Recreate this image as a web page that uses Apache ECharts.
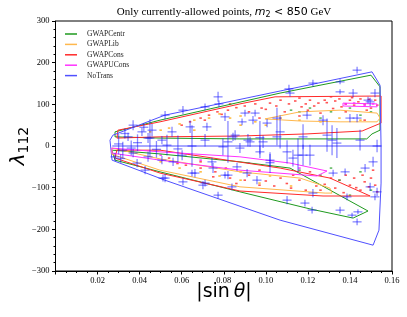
<!DOCTYPE html>
<html><head><meta charset="utf-8">
<script src="https://cdn.jsdelivr.net/npm/echarts@6/dist/echarts.min.js"></script>
<style>html,body{margin:0;padding:0;background:#fff}#c{width:407px;height:317px}</style>
</head><body><div id="c"></div>
<script>
const seriesNames = ['GWAPCentr','GWAPLib','GWAPCons','GWAPUCons','NoTrans'];
const seriesColors = ['#1f9a1f','#ffb84d','#ff2a2a','#ff33ff','#5050ff'];
const xTickValues = [0.02,0.04,0.06,0.08,0.10,0.12,0.14,0.16];
const yTickValues = [-300,-200,-100,0,100,200,300];

// contour outlines [sinθ, λ112]
const centrUpper = [[0.0283,34],[0.0497,62],[0.1068,127],[0.150,170],[0.1543,142],[0.1543,38],[0.1505,29],[0.148,17],[0.0877,17],[0.0497,19],[0.0283,22],[0.0283,34]];
const centrLower = [[0.0268,-10],[0.0497,-19],[0.0877,-38],[0.1115,-53],[0.1486,-156],[0.1415,-173],[0.121,-151],[0.0877,-110],[0.0497,-62],[0.0283,-34],[0.0268,-10]];
const libUpper = [[0.0996,65],[0.1163,82],[0.1353,86],[0.1529,79],[0.1543,67],[0.1529,58],[0.1353,58],[0.1163,60],[0.0996,65]];
const libLower = [[0.0268,-5],[0.0497,-31],[0.0877,-62],[0.1163,-77],[0.1305,-101],[0.1315,-113],[0.1282,-113],[0.0877,-98],[0.0497,-58],[0.0268,-20],[0.0268,-5]];
const consUpper = [[0.0292,19],[0.0297,38],[0.0497,58],[0.0877,101],[0.1044,118],[0.1548,120],[0.1548,55],[0.1505,46],[0.1458,36],[0.1196,29],[0.0877,24],[0.0497,22],[0.0292,19]];
const consLower = [[0.0292,-10],[0.0497,-10],[0.1068,-53],[0.1305,-77],[0.1496,-120],[0.1272,-120],[0.0877,-108],[0.0497,-65],[0.0283,-29],[0.0292,-10]];
const uconsUpper = [[0.1367,103],[0.1529,101],[0.1529,94],[0.1367,96],[0.1367,103]];
const uconsLower = [[0.0268,-5],[0.0497,-14],[0.0877,-26],[0.1115,-41],[0.1291,-60],[0.1243,-72],[0.0877,-58],[0.0497,-34],[0.0268,-17],[0.0268,-5]];
const noTransOuter = [[0.0259,14],[0.0273,26],[0.052,74],[0.1068,132],[0.1505,178],[0.1543,146],[0.1548,0],[0.1548,-89],[0.1538,-202],[0.151,-238],[0.1068,-178],[0.052,-82],[0.0269,-34],[0.0259,14]];
const noTransInner = [[0.027,0],[0.1548,0]];

// small points
const redPts = [[0.090,96],[0.095,101],[0.098,91],[0.102,103],[0.107,110],[0.111,101],[0.114,108],[0.116,115],[0.119,101],[0.121,110],[0.125,103],[0.128,110],[0.131,118],[0.133,108],[0.135,113],[0.138,101],[0.140,110],[0.142,98],[0.145,113],[0.147,101],[0.150,91],[0.152,110],[0.082,86],[0.077,82],[0.073,74],[0.069,67],[0.064,58],[0.097,67],[0.116,72],[0.126,79],[0.138,82],[0.147,62],[0.092,82],[0.109,82],[0.083,101],
 [0.123,96],[0.129,104],[0.136,94],[0.141,116],[0.144,106],[0.149,112],[0.153,98],[0.117,94],[0.105,96],[0.100,88],[0.086,92],[0.079,76],[0.071,62],[0.060,50],[0.132,90],[0.120,86],[0.148,86],
 [0.054,-29],[0.062,-46],[0.069,-53],[0.076,-62],[0.083,-77],[0.090,-82],[0.097,-94],[0.104,-96],[0.112,-101],[0.119,-106],[0.126,-106],[0.133,-101],[0.140,-94],[0.147,-86],[0.150,-77],[0.142,-77],[0.135,-82],[0.116,-82],[0.107,-77],[0.092,-70],[0.081,-53],[0.069,-38],[0.097,-58],[0.121,-62],[0.131,-77],[0.145,-106],[0.151,-58],[0.152,-94],
 [0.128,-92],[0.137,-112],[0.143,-100],[0.149,-98],[0.153,-110],[0.138,-70],[0.146,-70],[0.110,-90],[0.100,-84],[0.086,-90],[0.075,-74],[0.058,-42],[0.124,-96],[0.113,-70]];
const orangePts = [[0.054,43],[0.059,53],[0.066,62],[0.073,67],[0.078,77],[0.083,67],[0.088,72],[0.095,58],[0.100,50],[0.107,67],[0.116,62],[0.126,58],[0.135,67],[0.145,62],[0.045,34],[0.050,38],[0.088,50],[0.066,38],
 [0.050,-38],[0.059,-53],[0.069,-62],[0.078,-72],[0.088,-82],[0.097,-89],[0.112,-96],[0.088,-62],[0.102,-72]];
const greenPts = [[0.112,86],[0.121,91],[0.131,82],[0.140,91],[0.150,82],[0.145,74],[0.126,67],[0.116,82],
 [0.116,-58],[0.126,-70],[0.135,-82],[0.145,-62],[0.150,-106],[0.140,-118],[0.131,-53]];
const magentaPts = [[0.138,101],[0.142,103],[0.147,98],[0.151,101],[0.050,-22],[0.069,-34],[0.092,-41],[0.116,-53]];

// NoTrans points: [sinθ, λ112, half vertical extent]
const blueMarks = [[0.0773,118,12],[0.0777,101,8],[0.0606,86,10],[0.0521,74,10],[0.0369,50,12],[0.0459,38,15],[0.0411,34,10],[0.0345,22,10],[0.0440,19,12],[0.0506,14,10],
 [0.0554,34,12],[0.0640,46,15],[0.0720,46,10],[0.0711,14,15],[0.0844,22,10],[0.0796,-2,20],[0.0877,-5,12],[0.0369,-17,10],[0.0440,-26,12],[0.0506,-34,10],
 [0.0426,-58,10],[0.0521,-77,10],[0.0663,-65,10],[0.0749,-53,12],[0.0820,-70,10],[0.0911,-65,10],[0.0711,94,8],[0.0949,79,8],[0.0887,58,8],[0.1006,55,10],
 [0.0806,70,10],[0.0854,26,12],[0.0915,14,15],[0.0987,10,15],[0.1053,22,20],[0.1434,182,8],[0.1224,151,8],[0.1353,154,6],[0.1110,137,10],[0.1115,127,8],
 [0.1415,127,10],[0.1353,130,6],[0.1519,127,10],[0.1496,106,10],[0.0939,62,10],[0.1272,62,12],[0.1053,67,25],[0.1196,74,10],[0.0901,79,8],[0.1068,34,40],
 [0.0925,10,12],[0.1177,22,30],[0.1291,26,40],[0.1400,67,10],[0.1486,110,8],[0.1434,67,10],[0.1448,14,25],[0.1210,-22,25],[0.1186,-137,8],[0.1353,-154,8],
 [0.1410,-166,6],[0.1434,-182,8],[0.1496,-98,10],[0.1529,-110,10],[0.1224,-113,10],[0.1320,-65,8],[0.1377,-62,8],[0.1386,-122,8],[0.0972,-14,15],[0.1129,-29,20],
 [0.1177,-22,25],[0.1101,-130,10],[0.1220,-154,8],[0.1438,-158,6],[0.1472,-53,10],[0.1510,-38,12],[0.1519,-122,8],[0.0511,-77,8],[0.0701,-94,10],[0.0773,-118,8],
 [0.0958,-82,10],[0.0839,-98,8],[0.0602,-22,12],[0.0559,-38,10],[0.0649,-65,8],[0.0806,-70,8],[0.0744,-38,10],[0.0863,-50,10],[0.1020,-34,15],[0.0388,-41,10],
 [0.0606,-86,8],[0.0711,-89,8],[0.0283,-26,10],[0.0449,19,45],[0.0582,-7,32],[0.1101,-14,28],[0.1153,-22,40],[0.1315,14,36],[0.1338,7,36],[0.1529,0,15],
 [0.0649,0,50],[0.0820,10,50],[0.0300,5,25],[0.0320,-10,20],[0.0972,20,40],[0.1020,-40,25],
 [0.0330,30,12],[0.0360,-5,18],[0.0390,8,20],[0.0480,-8,20],[0.0530,2,25],[0.0310,-30,10],[0.0420,45,10]];

function outline(name, color, data){
  return {type:'line', name:name, data:data, showSymbol:false, symbol:'none', smooth:false,
    lineStyle:{color:color, width:1}, itemStyle:{color:color}, z:3, silent:true};
}
function dots(color, data){
  return {type:'scatter', data:data, symbol:'rect', symbolSize:[2.5,1.6], itemStyle:{color:color, opacity:0.75}, z:2, silent:true};
}

const chart = echarts.init(document.getElementById('c'), null, {renderer:'canvas'});
const serif = 'Liberation Serif';
chart.setOption({
  animation:false,
  backgroundColor:'#fff',
  grid:{left:55.5, right:15, top:21, bottom:46, show:true, borderColor:'#000', borderWidth:1, containLabel:false},
  xAxis:{type:'value', min:0, max:0.16, interval:0.02,
    axisLine:{onZero:false, lineStyle:{color:'#000', width:1}},
    axisTick:{show:true, length:3.5, lineStyle:{color:'#000'}},
    minorTick:{show:true, splitNumber:4, length:2, lineStyle:{color:'#000'}},
    splitLine:{show:false},
    axisLabel:{color:'#000', fontFamily:serif, fontSize:8.5, margin:5,
      formatter:function(v){ return xTickValues.some(t=>Math.abs(t-v)<1e-9) ? v.toFixed(2) : ''; }}},
  yAxis:{type:'value', min:-300, max:300, interval:100,
    axisLine:{onZero:false, lineStyle:{color:'#000', width:1}},
    axisTick:{show:true, length:3.5, lineStyle:{color:'#000'}},
    minorTick:{show:true, splitNumber:5, length:2, lineStyle:{color:'#000'}},
    splitLine:{show:false},
    axisLabel:{color:'#000', fontFamily:serif, fontSize:8.5, margin:6,
      formatter:function(v){ return yTickValues.indexOf(v)>=0 ? String(v).replace('-','\u2212') : ''; }}},
  legend:{data:seriesNames.map(n=>({name:n, icon:'rect'})), orient:'vertical', left:60, top:25,
    itemWidth:12, itemHeight:1.5, itemGap:2.4, selectedMode:false,
    textStyle:{fontFamily:serif, fontSize:7.5, color:'#222', padding:[0,0,0,5]}},
  graphic:[
    {type:'text', x:224, y:12, style:{text:'{a|Only currently-allowed points, }{m|m}{s|2}{b| < 850}{a| GeV}',
      align:'center', verticalAlign:'middle', textAlign:'center', textVerticalAlign:'middle',
      rich:{a:{fontFamily:serif, fontSize:11, lineHeight:14, fill:'#000', color:'#000'},
            m:{fontFamily:'DejaVu Sans', fontStyle:'italic', fontSize:11, lineHeight:14, color:'#000'},
            s:{fontFamily:'DejaVu Sans', fontSize:8, lineHeight:6, verticalAlign:'bottom', color:'#000'},
            b:{fontFamily:'DejaVu Sans', fontSize:11, lineHeight:14, color:'#000'}}}},
    {type:'text', x:224, y:292, style:{text:'{a||sin\u2009}{t|θ}{a||}', align:'center', verticalAlign:'middle',
      textAlign:'center', textVerticalAlign:'middle',
      rich:{a:{fontFamily:'DejaVu Sans', fontSize:19, lineHeight:22, color:'#000'},
            t:{fontFamily:'DejaVu Sans', fontStyle:'italic', fontSize:19, lineHeight:22, color:'#000'}}}},
    {type:'text', x:19, y:146, rotation:Math.PI/2, style:{text:'{l|λ}{s|112}', align:'center', verticalAlign:'middle',
      textAlign:'center', textVerticalAlign:'middle',
      rich:{l:{fontFamily:'DejaVu Sans', fontStyle:'italic', fontSize:20, lineHeight:24, color:'#000'},
            s:{fontFamily:'DejaVu Sans', fontSize:14, lineHeight:8, verticalAlign:'bottom', color:'#000'}}}}
  ],
  series:[
    outline(seriesNames[0], seriesColors[0], centrUpper),
    outline(seriesNames[1], seriesColors[1], libUpper),
    outline(seriesNames[2], seriesColors[2], consUpper),
    outline(seriesNames[3], seriesColors[3], uconsUpper),
    outline(seriesNames[4], seriesColors[4], noTransOuter),
    outline(seriesNames[0], seriesColors[0], centrLower),
    outline(seriesNames[1], seriesColors[1], libLower),
    outline(seriesNames[2], seriesColors[2], consLower),
    outline(seriesNames[3], seriesColors[3], uconsLower),
    outline(seriesNames[4], seriesColors[4], noTransInner),
    dots('#ff1a1a', redPts),
    dots('#ffa500', orangePts),
    dots('#2ca02c', greenPts),
    dots('#ff00ff', magentaPts),
    {type:'custom', data:blueMarks, z:4, silent:true, clip:true,
      encode:{x:0, y:1},
      renderItem:function(params, api){
        const x = api.value(0), y = api.value(1), h = api.value(2);
        const c = api.coord([x,y]), lo = api.coord([x,y-h]), hi = api.coord([x,y+h]);
        const st = {stroke:'rgba(20,20,255,0.5)', lineWidth:1.3};
        return {type:'group', children:[
          {type:'line', shape:{x1:c[0], y1:hi[1], x2:c[0], y2:lo[1]}, style:st},
          {type:'line', shape:{x1:c[0]-4.5, y1:c[1], x2:c[0]+4.5, y2:c[1]}, style:st}
        ]};
      }}
  ]
});
</script></body></html>
